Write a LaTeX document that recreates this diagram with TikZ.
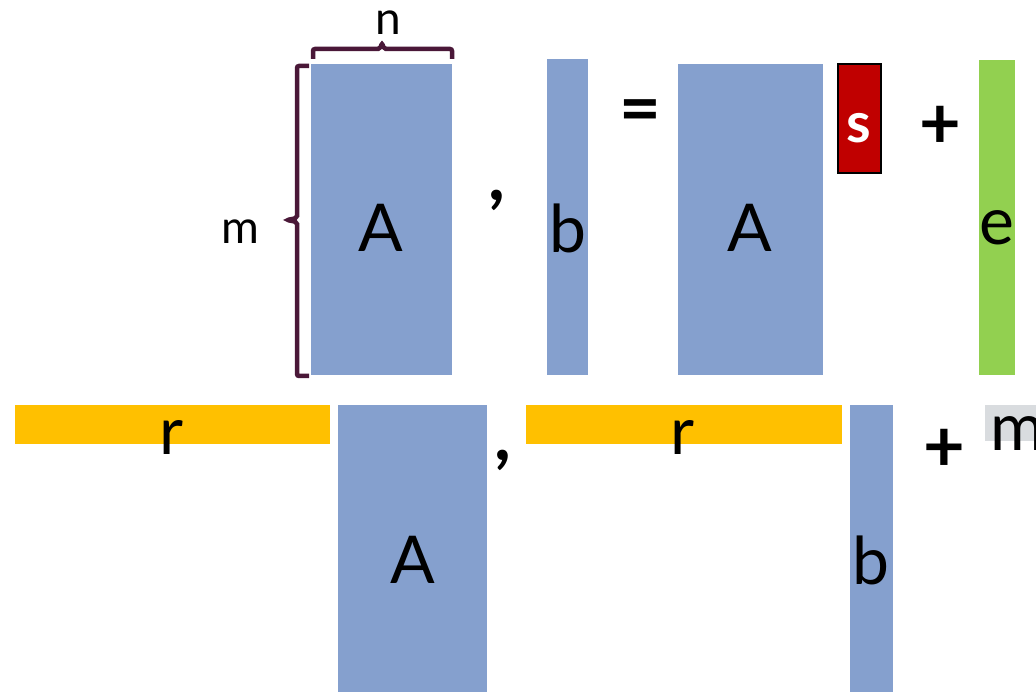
\documentclass[tikz,border=0pt]{standalone}
\usepackage{fontspec}
\setmainfont{Lato}
\definecolor{matblue}{HTML}{85A0CE}
\definecolor{sred}{HTML}{C00000}
\definecolor{egreen}{HTML}{92D050}
\definecolor{ryel}{HTML}{FFC000}
\definecolor{mgray}{HTML}{D9DCDF}
\definecolor{brcol}{HTML}{4A1838}
\begin{document}
\begin{tikzpicture}[x=1pt,y=-1pt,
  mat/.style={fill=matblue,draw=none},
  big/.style={font=\fontsize{66}{66}\selectfont,inner sep=0pt},
  sym/.style={font=\fontsize{72}{72}\selectfont\bfseries,inner sep=0pt},
  small/.style={font=\fontsize{46}{46}\selectfont,inner sep=0pt},
  brc/.style={draw=brcol,line width=4.5pt,rounded corners=2pt}]
\useasboundingbox (0,0) rectangle (1036,692);
\clip (0,0) rectangle (1036,692);
% top row
\fill[mat] (311,64) rectangle (452,375);
\node[big] (A1) at (381,228) {A};
\draw[brc] (313,59) -- (313,49) -- (380,49) -- (382,43) -- (384,49) -- (452,49) -- (452,59);
\node[small] (n) at (388,23) {n};
\draw[brc] (309,66) -- (297,66) -- (297,218) -- (287,220) -- (297,222) -- (297,376) -- (309,376);
\node[small] (m) at (240,232) {m};
\node[sym] (c1) at (497,200) {,};
\fill[mat] (547,59) rectangle (588,375);
\node[big] (b1) at (568,228) {b};
\node[sym] (eq) at (640,117) {=};
\fill[mat] (678,64) rectangle (823,375);
\node[big] (A2) at (750,228) {A};
\draw[fill=sred,draw=black,line width=1.5pt] (838,64) rectangle (881,173);
\node[big,text=white,font=\fontsize{56}{56}\selectfont\bfseries] (s) at (859,128) {s};
\node[sym] (p1) at (940,127) {+};
\fill[fill=egreen] (979,60) rectangle (1015,375);
\node[big] (e) at (997,228) {e};
% bottom row
\fill[fill=ryel] (15,405) rectangle (330,444);
\node[big] (r1) at (172,437) {r};
\fill[mat] (338,405) rectangle (487,692);
\node[big] (A3) at (413,560) {A};
\node[sym] (c2) at (503,460) {,};
\fill[fill=ryel] (526,405) rectangle (842,444);
\node[big] (r2) at (683,437) {r};
\fill[mat] (850,405) rectangle (893,692);
\node[big] (b2) at (871,560) {b};
\node[sym] (p2) at (944,450) {+};
\fill[fill=mgray] (985,405) rectangle (1036,441);
\node[big,anchor=west] (m2) at (990,434) {m};
\end{tikzpicture}
\end{document}
